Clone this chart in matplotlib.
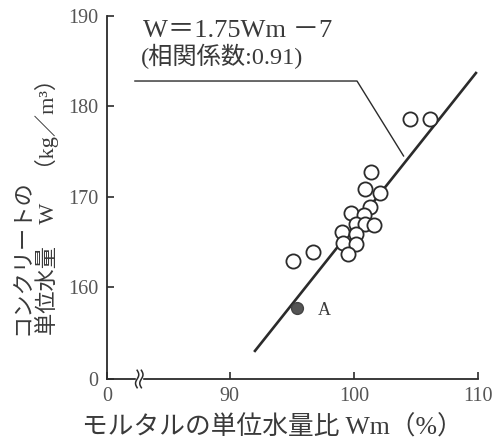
import matplotlib
matplotlib.use("Agg")
import matplotlib.pyplot as plt
import matplotlib.transforms as mtransforms
import numpy as np

FAM = ["Liberation Serif", "Noto Sans CJK JP"]
plt.rcParams["font.family"] = FAM

# measured points (open circles): mortar water ratio Wm (%) vs concrete unit water W (kg/m3)
wm_open = [104.5, 106.1, 101.4, 100.9, 102.1, 101.3, 99.8, 100.8, 100.2, 100.9,
           101.6, 99.0, 100.2, 99.1, 100.2, 99.5, 96.7, 95.1]
w_open = [178.6, 178.6, 172.7, 170.8, 170.4, 168.9, 168.2, 168.0, 167.0, 167.0,
          166.8, 166.1, 165.9, 164.9, 164.8, 163.6, 163.9, 162.9]
# point A (filled)
wm_a, w_a = [95.4], [157.7]
# regression line as drawn
line_wm = [91.96, 109.9]
line_w = [152.8, 183.8]
# leader from equation to the line
lead_wm = [82.35, 100.25, 104.0]
lead_w = [182.8, 182.8, 174.5]

x_lo, y_lo = 80.1, 149.8
x_ticks = [x_lo, 90, 100, 110]
x_labels = ["0", "90", "100", "110"]
y_ticks = [y_lo, 160, 170, 180, 190]
y_labels = ["0", "160", "170", "180", "190"]

ink = "#2b2b2b"
txt = "#3a3a3a"
fig = plt.figure(figsize=(4.96, 4.46), dpi=100)
ax = fig.add_axes([107 / 496, 1 - 379 / 446, (478 - 107) / 496, (379 - 16) / 446])
ax.set_xlim(x_lo, 110)
ax.set_ylim(y_lo, 190)
for s in ("top", "right"):
    ax.spines[s].set_visible(False)
for s in ("left", "bottom"):
    ax.spines[s].set_linewidth(1.3)
    ax.spines[s].set_color(ink)

ax.plot(line_wm, line_w, color=ink, lw=1.9, solid_capstyle="butt", zorder=2)
ax.plot(wm_open, w_open, "o", ms=10.2, mfc="white", mec=ink, mew=1.3, zorder=3)
ax.plot(wm_a, w_a, "o", ms=8.5, mfc="#555555", mec="#444444", zorder=3)
ax.annotate("A", (wm_a[0], w_a[0]), xytext=(15, -2), textcoords="offset points",
            ha="left", va="center", fontsize=13, color=txt)
ax.plot(lead_wm, lead_w, color=ink, lw=1.0, zorder=2)

ax.set_xticks(x_ticks, x_labels)
ax.set_yticks(y_ticks, y_labels)
ax.tick_params(direction="in", length=5, width=1.2, colors=ink, labelsize=14.5,
               labelcolor="#555555")
ax.tick_params(axis="x", pad=6)
ax.tick_params(axis="y", pad=6)

# axis break on x
trans = mtransforms.blended_transform_factory(ax.transData, ax.transAxes)
t = np.linspace(-1, 1, 40)
ax.fill_between([82.45, 82.95], -0.006, 0.006, color="white", transform=trans,
                zorder=3.5, clip_on=False)
for dx in (-0.17, 0.17):
    bx = 82.7 + dx + 0.13 * np.sin(t * np.pi)
    by = 0.024 * t
    ax.plot(bx, by, color=ink, lw=1.1, transform=trans, clip_on=False, zorder=4)

# equation
fig.text(143 / 496, 1 - 37 / 446, "W＝1.75Wm －7", fontsize=19, color=txt,
         ha="left", va="baseline")
fig.text(141 / 496, 1 - 64 / 446, "(相関係数:0.91)", fontsize=17.5, color=txt,
         ha="left", va="baseline")

fig.text(272 / 496, 1 - 427 / 446, "モルタルの単位水量比 Wm（%）", fontsize=18.5,
         color=txt, ha="center", va="center")
fig.text(37 / 496, 1 - 335 / 446, "コンクリートの\n単位水量　W　（kg／m³）", rotation=90,
         ha="center", va="bottom", multialignment="left", fontsize=16,
         color=txt, linespacing=1.05)

fig.savefig("out.png", dpi=100)
